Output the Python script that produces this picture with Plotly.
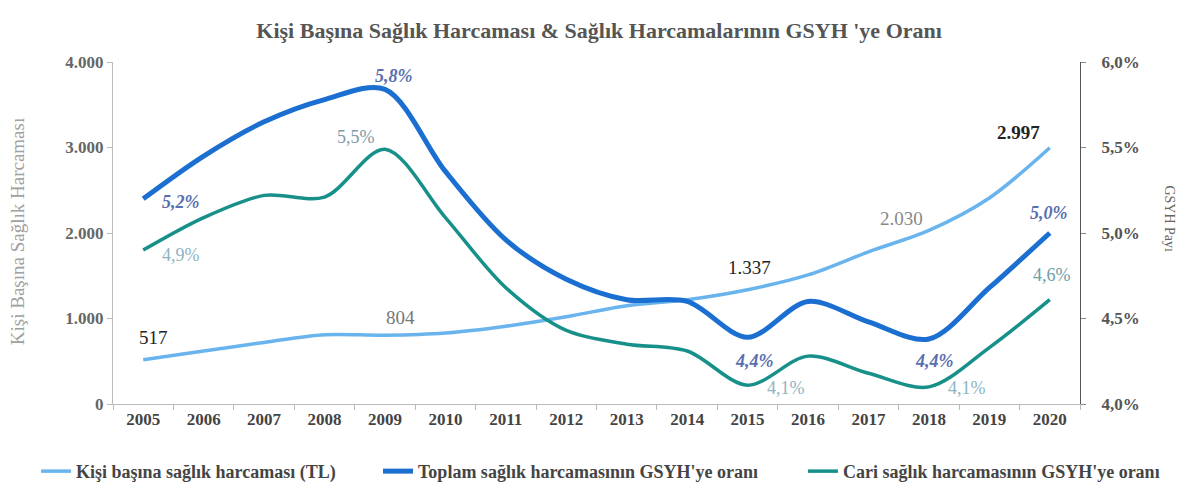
import plotly.graph_objects as go

years = [str(y) for y in range(2005, 2021)]

# Kişi başına sağlık harcaması (TL), left axis
per_capita = [517, 620, 720, 810, 804, 830, 910, 1020, 1150, 1220, 1337, 1510, 1780, 2030, 2410, 2997]
# Toplam sağlık harcamasının GSYH'ye oranı (%), right axis
total_ratio = [5.2, 5.45, 5.65, 5.78, 5.84, 5.36, 4.96, 4.73, 4.61, 4.60, 4.39, 4.60, 4.48, 4.38, 4.68, 5.0]
# Cari sağlık harcamasının GSYH'ye oranı (%), right axis
current_ratio = [4.9, 5.09, 5.22, 5.21, 5.49, 5.09, 4.68, 4.43, 4.35, 4.31, 4.11, 4.28, 4.18, 4.10, 4.33, 4.61]

# labelled points: (year index, text)
per_capita_labels = [(0, "517"), (4, "804"), (10, "1.337"), (13, "2.030"), (15, "2.997")]
total_labels = [(0, "5,2%"), (4, "5,8%"), (10, "4,4%"), (13, "4,4%"), (15, "5,0%")]
current_labels = [(0, "4,9%"), (4, "5,5%"), (10, "4,1%"), (13, "4,1%"), (15, "4,6%")]

left_ticks = [0, 1000, 2000, 3000, 4000]
left_ticktext = ["0", "1.000", "2.000", "3.000", "4.000"]
right_ticks = [4.0, 4.5, 5.0, 5.5, 6.0]
right_ticktext = ["4,0%", "4,5%", "5,0%", "5,5%", "6,0%"]

SERIF = "Liberation Serif, Times New Roman, serif"
LIGHT = "#6ab4ee"
DARK = "#1b6fd0"
TEAL = "#17908a"

fig = go.Figure()
fig.add_trace(go.Scatter(x=years, y=per_capita, name="Kişi başına sağlık harcaması (TL)", mode="lines",
                         line=dict(color=LIGHT, width=3.5, shape="spline", smoothing=0.9), legend="legend"))
fig.add_trace(go.Scatter(x=years, y=total_ratio, name="Toplam sağlık harcamasının GSYH'ye oranı", mode="lines",
                         line=dict(color=DARK, width=5, shape="spline", smoothing=0.9), yaxis="y2", legend="legend2"))
fig.add_trace(go.Scatter(x=years, y=current_ratio, name="Cari sağlık harcamasının GSYH'ye oranı", mode="lines",
                         line=dict(color=TEAL, width=3.5, shape="spline", smoothing=0.9), yaxis="y2", legend="legend3"))

# label offsets in pixels (dx, dy up)
pc_shift = [(10, 22, "#222"), (16, 18, "#777"), (2, 22, "#222"), (-27, 12, "#888"), (-31, 15, "#222")]
tot_shift = [(38, -3), (9, 13), (7, -24), (6, -22), (-1, 20)]
cur_shift = [(38, -5, "#8fb3c2"), (-29, 12, "#7f9aa6"), (38, -3, "#8fb3c2"), (38, -1, "#8fb3c2"), (2, 25, "#6f9ea9")]

annotations = []
for (i, txt), (dx, dy, col) in zip(per_capita_labels, pc_shift):
    annotations.append(dict(x=i, y=per_capita[i], xref="x", yref="y", text=txt, showarrow=False,
                            xshift=dx, yshift=dy, font=dict(family=SERIF, size=19, color=col,
                                                            weight="bold" if i == 15 else "normal")))
for (i, txt), (dx, dy) in zip(total_labels, tot_shift):
    annotations.append(dict(x=i, y=total_ratio[i], xref="x", yref="y2", text=f"<i><b>{txt}</b></i>",
                            showarrow=False, xshift=dx, yshift=dy,
                            font=dict(family=SERIF, size=18, color="#5a6fb0")))
for (i, txt), (dx, dy, col) in zip(current_labels, cur_shift):
    annotations.append(dict(x=i, y=current_ratio[i], xref="x", yref="y2", text=txt, showarrow=False,
                            xshift=dx, yshift=dy, font=dict(family=SERIF, size=18, color=col)))

annotations.append(dict(text="Kişi Başına Sağlık Harcaması", xref="paper", yref="paper", x=-0.098, y=0.503,
                        xanchor="center", yanchor="middle", textangle=-90, showarrow=False,
                        font=dict(family=SERIF, size=19, color="#a0a0a0")))
annotations.append(dict(text="GSYH Payı", xref="paper", yref="paper", x=1.093, y=0.54,
                        xanchor="center", yanchor="middle", textangle=90, showarrow=False,
                        font=dict(family=SERIF, size=14, color="#666")))

legend_style = dict(orientation="h", xref="container", yref="container", yanchor="middle", y=0.075,
                    bgcolor="rgba(0,0,0,0)", font=dict(family=SERIF, size=18, color="#444", weight="bold"),
                    itemwidth=30)

fig.update_layout(
    width=1199, height=501,
    margin=dict(l=105, r=127, t=54, b=105),
    paper_bgcolor="white", plot_bgcolor="white",
    title=dict(text="<b>Kişi Başına Sağlık Harcaması & Sağlık Harcamalarının GSYH 'ye Oranı</b>",
               x=0.493, xanchor="center", y=0.956, yanchor="middle",
               font=dict(family=SERIF, size=22, color="#555")),
    xaxis=dict(type="category", range=[-0.5, len(years) - 0.5], showgrid=False, showline=True,
               linecolor="#bbb", linewidth=1,
               ticks="outside", tickson="boundaries", ticklen=5, tickcolor="#bbb",
               tickfont=dict(family=SERIF, size=17, color="#444", weight="bold")),
    yaxis=dict(range=[0, 4000], tickvals=left_ticks, ticktext=left_ticktext, showgrid=False,
               showline=True, linecolor="#bbb", ticks="outside", ticklen=5, tickcolor="#bbb",
               zeroline=False, tickfont=dict(family=SERIF, size=17, color="#666", weight="bold")),
    yaxis2=dict(range=[4.0, 6.0], tickvals=right_ticks, ticktext=right_ticktext, overlaying="y", side="right",
                showgrid=False, showline=True, linecolor="#555", ticks="outside", ticklen=5, tickcolor="#888",
                zeroline=False, ticklabelstandoff=12,
                tickfont=dict(family=SERIF, size=17, color="#555", weight="bold")),
    legend=dict(legend_style, x=0.0234),
    legend2=dict(legend_style, x=0.3086),
    legend3=dict(legend_style, x=0.663),
    annotations=annotations,
    showlegend=True,
)

fig.write_html("out.html")
